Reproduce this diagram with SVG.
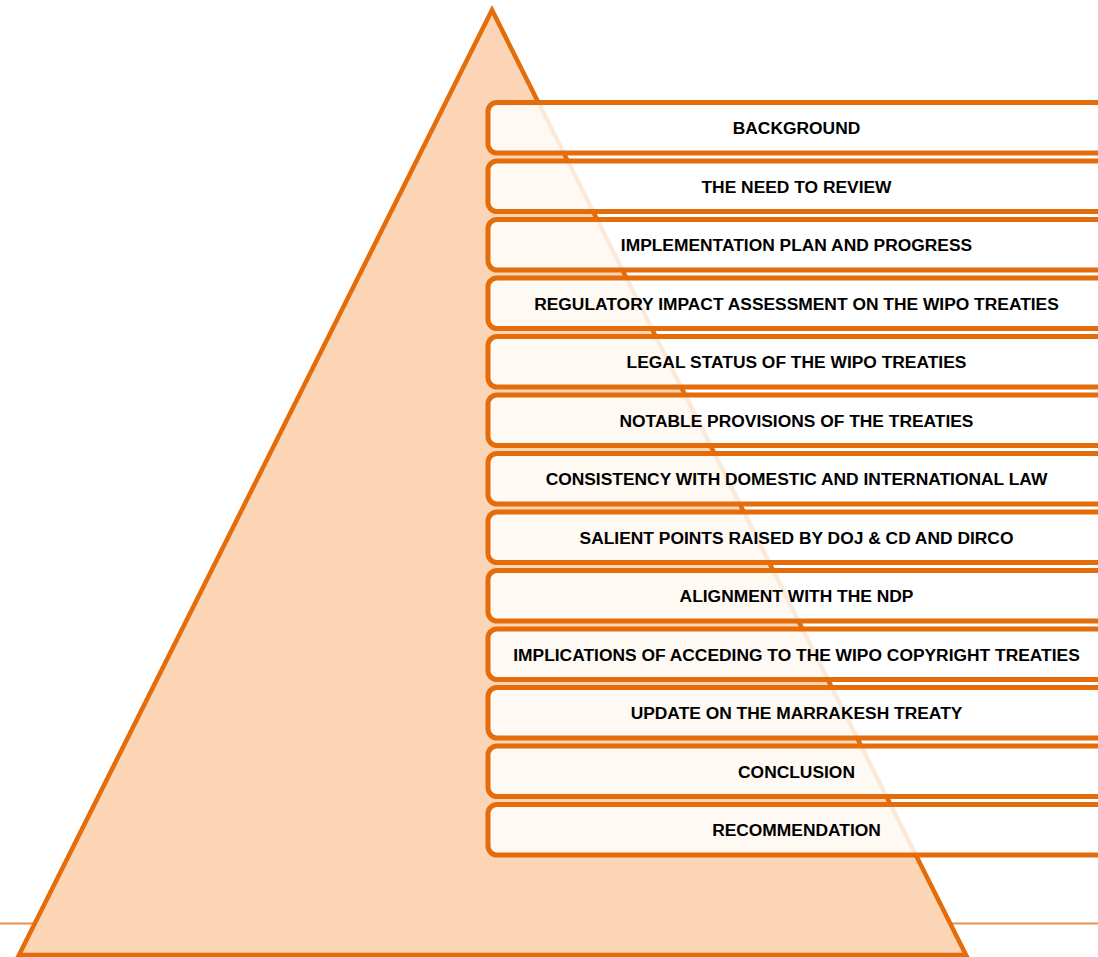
<svg xmlns="http://www.w3.org/2000/svg" width="1098" height="957" viewBox="0 0 1098 957">
<style>
.bg{fill:#ffffff}
.tri{fill:#FBD5B5;stroke:#E46C0A;stroke-width:4.5;stroke-linejoin:miter}
.base{stroke:#EB8F4C;stroke-width:2;fill:none}
.box{fill:#ffffff;fill-opacity:0.85;stroke:#E46C0A;stroke-width:5}
.lbl{font-family:"Liberation Sans",Arial,sans-serif;font-weight:bold;font-size:17.4px;fill:#000000;text-anchor:middle}
</style>
<rect class="bg" x="0" y="0" width="1098" height="957"/>
<line class="base" x1="0" y1="923.5" x2="1098" y2="923.5"/>
<g id="pyramid">
<polygon class="tri" points="492,10 19,955 966,955"/>
</g>
<g id="connectors"></g>
<g id="n1"><rect class="box" x="488" y="102.5" width="625" height="50.5" rx="9"/><text class="lbl" x="796.5" y="134.2">BACKGROUND</text></g>
<g id="n2"><rect class="box" x="488" y="161" width="625" height="50.5" rx="9"/><text class="lbl" x="796.5" y="192.7">THE NEED TO REVIEW</text></g>
<g id="n3"><rect class="box" x="488" y="219.5" width="625" height="50.5" rx="9"/><text class="lbl" x="796.5" y="251.2">IMPLEMENTATION PLAN AND PROGRESS</text></g>
<g id="n4"><rect class="box" x="488" y="278" width="625" height="50.5" rx="9"/><text class="lbl" x="796.5" y="309.7">REGULATORY IMPACT ASSESSMENT ON THE WIPO TREATIES</text></g>
<g id="n5"><rect class="box" x="488" y="336.5" width="625" height="50.5" rx="9"/><text class="lbl" x="796.5" y="368.2">LEGAL STATUS OF THE WIPO TREATIES</text></g>
<g id="n6"><rect class="box" x="488" y="395" width="625" height="50.5" rx="9"/><text class="lbl" x="796.5" y="426.7">NOTABLE PROVISIONS OF THE TREATIES</text></g>
<g id="n7"><rect class="box" x="488" y="453.5" width="625" height="50.5" rx="9"/><text class="lbl" x="796.5" y="485.2">CONSISTENCY WITH DOMESTIC AND INTERNATIONAL LAW</text></g>
<g id="n8"><rect class="box" x="488" y="512" width="625" height="50.5" rx="9"/><text class="lbl" x="796.5" y="543.7">SALIENT POINTS RAISED BY DOJ &amp; CD AND DIRCO</text></g>
<g id="n9"><rect class="box" x="488" y="570.5" width="625" height="50.5" rx="9"/><text class="lbl" x="796.5" y="602.2">ALIGNMENT WITH THE NDP</text></g>
<g id="n10"><rect class="box" x="488" y="629" width="625" height="50.5" rx="9"/><text class="lbl" x="796.5" y="660.7">IMPLICATIONS OF ACCEDING TO THE WIPO COPYRIGHT TREATIES</text></g>
<g id="n11"><rect class="box" x="488" y="687.5" width="625" height="50.5" rx="9"/><text class="lbl" x="796.5" y="719.2">UPDATE ON THE MARRAKESH TREATY</text></g>
<g id="n12"><rect class="box" x="488" y="746" width="625" height="50.5" rx="9"/><text class="lbl" x="796.5" y="777.7">CONCLUSION</text></g>
<g id="n13"><rect class="box" x="488" y="804.5" width="625" height="50.5" rx="9"/><text class="lbl" x="796.5" y="836.2">RECOMMENDATION</text></g>
</svg>
